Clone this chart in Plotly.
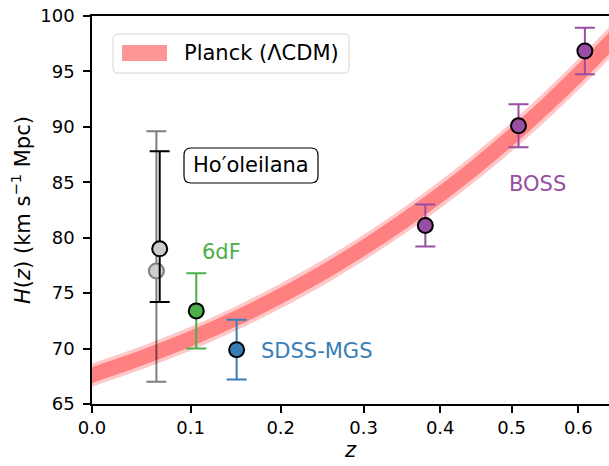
import plotly.graph_objects as go
import math

# ---------------- data ----------------
# Planck LCDM band
planck_z = [-0.02, 0.0, 0.05, 0.10, 0.15, 0.20, 0.25, 0.30, 0.35, 0.40, 0.45, 0.50, 0.55, 0.60, 0.65, 0.67]
planck_H = [66.9, 67.6, 69.2, 70.9, 72.75, 74.75, 76.85, 79.09, 81.44, 83.89, 86.45, 89.11, 91.87, 94.73, 97.67, 98.9]

# Ho'oleilana (two versions)
hoo_grey_z = [0.0642]
hoo_grey_H = [77.0]
hoo_grey_up = [12.6]
hoo_grey_dn = [10.0]

hoo_z = [0.0676]
hoo_H = [79.0]
hoo_up = [8.8]
hoo_dn = [4.8]

sixdf_z = [0.106]
sixdf_H = [73.4]
sixdf_err = [3.4]

sdss_z = [0.15]
sdss_H = [69.9]
sdss_err = [2.7]

boss_z = [0.38, 0.51, 0.61]
boss_H = [81.1, 90.1, 96.85]
boss_err = [1.9, 1.95, 2.1]

x_ticks = [0.0, 0.1, 0.2, 0.3, 0.4, 0.5, 0.6]
x_tick_labels = ["0.0", "0.1", "0.2", "0.3", "0.4", "0.5", "0.6"]
y_ticks = [65, 70, 75, 80, 85, 90, 95, 100]

# ---------------- geometry ----------------
W, H = 609, 466
ML, MR, MT, MB = 92, 0, 16, 62
PW, PH = W - ML - MR, H - MT - MB
XMAX_LOG = (W - ML) / 2383.0  # axis in log10(1+z)

FONT = "DejaVu Sans"
GREEN = "#4daf4a"
BLUE = "#377eb8"
PURPLE = "#984ea3"


def opz(z):
    return [1.0 + v for v in z]


def px(x, y):
    """pixel -> paper"""
    return (x - ML) / PW, (H - MB - y) / PH


def rounded_path(x0, y0, x1, y1, r):
    rx, ry = r / PW, r / PH
    a0, b1 = px(x0, y0)
    a1, b0 = px(x1, y1)
    return (f"M {a0+rx},{b1} L {a1-rx},{b1} Q {a1},{b1} {a1},{b1-ry} "
            f"L {a1},{b0+ry} Q {a1},{b0} {a1-rx},{b0} L {a0+rx},{b0} "
            f"Q {a0},{b0} {a0},{b0+ry} L {a0},{b1-ry} Q {a0},{b1} {a0+rx},{b1} Z")


fig = go.Figure()

# Planck band
fig.add_trace(go.Scatter(x=opz(planck_z), y=planck_H, mode="lines",
                         line=dict(color="#ffc8c8", width=22, shape="spline"),
                         hoverinfo="skip", showlegend=False))
fig.add_trace(go.Scatter(x=opz(planck_z), y=planck_H, mode="lines",
                         line=dict(color="#ff8080", width=15, shape="spline"),
                         hoverinfo="skip", showlegend=False))


def pts(z, h, up, dn, color, face, edge, opacity=1.0):
    fig.add_trace(go.Scatter(
        x=opz(z), y=h, mode="markers", opacity=opacity,
        error_y=dict(type="data", symmetric=False, array=up, arrayminus=dn,
                     color=color, thickness=2, width=10),
        marker=dict(size=15, color=face, line=dict(color=edge, width=2)),
        hoverinfo="skip", showlegend=False))


pts(hoo_grey_z, hoo_grey_H, hoo_grey_up, hoo_grey_dn, "black", "#a0a0a0", "black", 0.5)
pts(hoo_z, hoo_H, hoo_up, hoo_dn, "black", "#cbcbcb", "black")
pts(sixdf_z, sixdf_H, sixdf_err, sixdf_err, GREEN, GREEN, "black")
pts(sdss_z, sdss_H, sdss_err, sdss_err, BLUE, BLUE, "black")
pts(boss_z, boss_H, boss_err, boss_err, PURPLE, PURPLE, "black")

shapes = []
annotations = []

# legend (manual, rounded box)
shapes.append(dict(type="path", xref="paper", yref="paper",
                   path=rounded_path(113, 34, 349, 73, 5),
                   line=dict(color="#d6d6d6", width=1), fillcolor="rgba(255,255,255,0.8)"))
lx0, ly0 = px(122, 45)
lx1, ly1 = px(167, 61)
shapes.append(dict(type="rect", xref="paper", yref="paper", x0=lx0, x1=lx1, y0=ly1, y1=ly0,
                   line=dict(width=0), fillcolor="#ff9696"))
tx, ty = px(182, 53)
annotations.append(dict(xref="paper", yref="paper", x=tx, y=ty, xanchor="left", yanchor="middle",
                        text="Planck (ΛCDM)", showarrow=False,
                        font=dict(family=FONT, size=21, color="black")))

# Ho'oleilana label box
shapes.append(dict(type="path", xref="paper", yref="paper",
                   path=rounded_path(184, 148, 318, 183, 7),
                   line=dict(color="black", width=1.2), fillcolor="white"))
hx, hy = px(251, 165)
annotations.append(dict(xref="paper", yref="paper", x=hx, y=hy, xanchor="center", yanchor="middle",
                        text="Ho′oleilana", showarrow=False,
                        font=dict(family=FONT, size=21, color="black")))


def label(text, x, y, color):
    ax, ay = px(x, y)
    annotations.append(dict(xref="paper", yref="paper", x=ax, y=ay, xanchor="center",
                            yanchor="middle", text=text, showarrow=False,
                            font=dict(family=FONT, size=21, color=color)))


label("6dF", 221, 252, GREEN)
label("SDSS-MGS", 316, 351, BLUE)
label("BOSS", 537, 184, PURPLE)

fig.update_layout(
    width=W, height=H,
    margin=dict(l=ML, r=MR, t=MT, b=MB, autoexpand=False),
    paper_bgcolor="white", plot_bgcolor="white",
    font=dict(family=FONT, size=18, color="black"),
    shapes=shapes, annotations=annotations,
    showlegend=False,
)
fig.update_xaxes(
    type="log", range=[0, XMAX_LOG], automargin=False,
    tickvals=opz(x_ticks), ticktext=x_tick_labels,
    ticks="outside", ticklen=7, tickwidth=1.5, tickcolor="black",
    showline=True, linecolor="black", linewidth=1.5, mirror=True,
    showgrid=False, zeroline=False,
    tickfont=dict(family=FONT, size=18),
    title=dict(text="<i>z</i>", font=dict(family=FONT, size=21), standoff=2),
)
fig.update_yaxes(
    range=[65, 100], tickvals=y_ticks, automargin=False,
    ticks="outside", ticklen=7, tickwidth=1.5, tickcolor="black",
    showline=True, linecolor="black", linewidth=1.5,
    showgrid=False, zeroline=False, ticklabelstandoff=5,
    tickfont=dict(family=FONT, size=18),
    title=dict(text="<i>H</i>(<i>z</i>) (km s<sup>−1</sup> Mpc)", font=dict(family=FONT, size=21), standoff=4),
)

fig.write_html(
    "out.html",
    config={"displayModeBar": False},
    post_script="document.body.style.margin='0';document.body.style.padding='0';"
                "document.documentElement.style.overflow='hidden';",
)
